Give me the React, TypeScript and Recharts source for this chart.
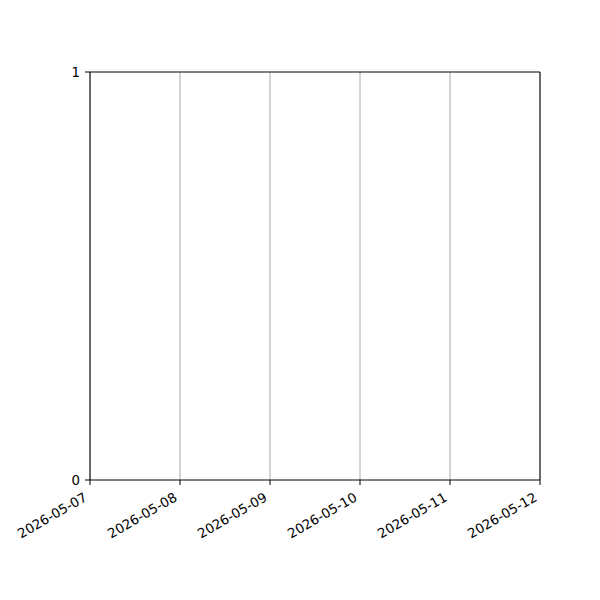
import { CartesianGrid, Line, LineChart, ReferenceLine, XAxis, YAxis } from 'recharts';

const dayLabels = ['2026-05-07', '2026-05-08', '2026-05-09', '2026-05-10', '2026-05-11', '2026-05-12'];
const dayTicks = [0, 1, 2, 3, 4, 5];
const yTicks = [0, 1];
const seriesValues: { day: number; value: number }[] = [];

const FONT = '"DejaVu Sans", sans-serif';

function DateTick({ x, y, payload }: any) {
  return (
    <g transform={`translate(${x - 2},${y + 13})`}>
      <text
        textAnchor="end"
        transform="rotate(-30)"
        fontSize={13.3}
        fontFamily={FONT}
        fill="#000"
      >
        {dayLabels[payload.value]}
      </text>
    </g>
  );
}

export default function App() {
  return (
    <div style={{ width: 600, height: 600, background: '#fff' }}>
      <style>{'body{margin:0}'}</style>
      <LineChart
        width={600}
        height={600}
        data={seriesValues}
        margin={{ top: 72, right: 60, bottom: 60, left: 50 }}
      >
        <CartesianGrid horizontal={false} stroke="#a8a8a8" strokeWidth={1} verticalValues={dayTicks} />
        <XAxis
          dataKey="day"
          type="number"
          domain={[0, 5]}
          ticks={dayTicks}
          interval={0}
          height={60}
          tick={<DateTick />}
          tickSize={5}
          tickLine={{ stroke: '#000' }}
          axisLine={{ stroke: '#000' }}
          allowDataOverflow
        />
        <YAxis
          type="number"
          domain={[0, 1]}
          ticks={yTicks}
          width={40}
          tickSize={5}
          tickMargin={5}
          tick={{ fill: '#000', fontSize: 13.3, fontFamily: FONT }}
          tickLine={{ stroke: '#000' }}
          axisLine={{ stroke: '#000' }}
          allowDataOverflow
        />
        <ReferenceLine y={1} stroke="#000" ifOverflow="visible" />
        <ReferenceLine x={5} stroke="#000" ifOverflow="visible" />
        <Line dataKey="value" stroke="#1f77b4" dot={false} isAnimationActive={false} />
      </LineChart>
    </div>
  );
}
